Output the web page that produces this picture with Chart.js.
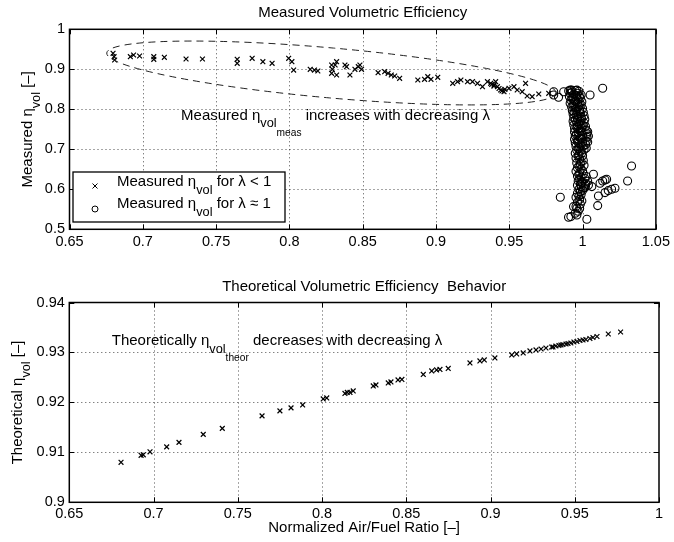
<!DOCTYPE html>
<html><head><meta charset="utf-8">
<script src="https://cdn.jsdelivr.net/npm/chart.js@4.4.1/dist/chart.umd.min.js"></script>
<style>
html,body{margin:0;padding:0;background:#fff;}
#wrap{position:relative;width:674px;height:542px;background:#fff;}
canvas{position:absolute;left:0;}
</style></head><body>
<div id="wrap">
<canvas id="c1" width="674" height="271" style="top:0px"></canvas>
<canvas id="c2" width="674" height="271" style="top:271px"></canvas>
</div>
<script>
// ---------------- DATA ----------------
// Measured volumetric efficiency, lambda < 1  [lambda, eta]
const measuredRich = [
[0.6797,0.940],[0.6804,0.9315],[0.6808,0.9233],[0.6915,0.9315],[0.6937,0.9358],[0.6978,0.9333],
[0.7075,0.9315],[0.7075,0.925],[0.7147,0.930],[0.7295,0.9258],[0.7407,0.9258],[0.7644,0.925],[0.7644,0.915],
[0.7746,0.9275],[0.7819,0.919],[0.7882,0.915],[0.7995,0.9275],[0.8017,0.919],[0.8029,0.898],
[0.8142,0.900],[0.8171,0.898],[0.8194,0.8958],[0.8288,0.9108],[0.8293,0.900],[0.8312,0.9108],[0.8322,0.919],
[0.8288,0.890],[0.8322,0.8858],[0.8379,0.9108],[0.839,0.9065],[0.8413,0.8858],[0.8447,0.900],[0.847,0.9065],
[0.8481,0.9108],[0.8492,0.900],[0.8605,0.8915],[0.865,0.894],[0.8673,0.890],[0.8695,0.8858],[0.8718,0.8833],
[0.8752,0.8775],[0.8876,0.8733],[0.8922,0.875],[0.8944,0.8815],[0.8966,0.875],[0.9012,0.880],
[0.9114,0.865],[0.9147,0.869],[0.917,0.8733],[0.9215,0.869],[0.9249,0.869],[0.9283,0.865],[0.9317,0.8565],
[0.9351,0.869],[0.9373,0.865],[0.938,0.862],[0.9395,0.858],[0.9396,0.8608],[0.9407,0.869],[0.9419,0.8565],[0.943,0.852],
[0.9441,0.8483],[0.945,0.846],[0.9464,0.844],[0.947,0.850],[0.9498,0.8525],[0.9532,0.8565],[0.9554,0.8483],
[0.9588,0.844],[0.9611,0.865],[0.9622,0.8333],[0.9656,0.8315],[0.9701,0.8383],[0.9769,0.840]
];
// Measured volumetric efficiency, lambda ~ 1  [lambda, eta]
const measuredStoich = [
[0.9905,0.846],[0.9925,0.848],[0.995,0.847],[0.9975,0.845],[0.9915,0.840],[0.994,0.838],[0.9965,0.840],[0.999,0.836],
[0.991,0.832],[0.9935,0.830],[0.996,0.833],[0.9985,0.828],[0.992,0.823],[0.9945,0.821],[0.997,0.824],[0.9995,0.819],
[0.9915,0.815],[0.994,0.813],[0.9965,0.816],[0.999,0.811],[0.9925,0.806],[0.995,0.804],[0.9975,0.807],[1.0,0.802],
[0.993,0.797],[0.9955,0.795],[0.998,0.798],[1.0005,0.793],[0.9935,0.788],[0.996,0.786],[0.9985,0.789],[1.001,0.784],
[0.994,0.779],[0.9965,0.777],[0.999,0.780],[1.0015,0.775],[0.9935,0.770],[0.996,0.768],[0.9985,0.771],[1.001,0.766],
[0.994,0.761],[0.9965,0.759],[0.999,0.762],[1.002,0.757],[0.9945,0.752],[0.997,0.750],[0.9995,0.753],[1.0025,0.748],
[0.9945,0.743],[0.997,0.741],[0.9995,0.744],[1.003,0.739],[0.995,0.734],[0.9975,0.732],[1.0,0.735],[1.003,0.730],
[0.9945,0.725],[0.997,0.723],[0.9995,0.726],[1.0025,0.721],[0.995,0.716],[0.9975,0.714],[1.0,0.717],[1.002,0.712],
[0.9955,0.707],[0.998,0.705],[1.0005,0.708],[0.996,0.698],[0.9985,0.696],[1.001,0.699],[0.995,0.690],[0.9975,0.687],
[1.0,0.684],[0.9955,0.678],[0.998,0.675],[1.0005,0.672],[0.996,0.666],[0.9985,0.663],[1.001,0.660],[0.9965,0.654],
[0.999,0.651],[0.9955,0.645],[0.998,0.642],[1.0005,0.639],[0.9965,0.633],[0.999,0.630],[1.0015,0.627],[0.997,0.621],
[0.9995,0.618],[1.002,0.615],[0.9965,0.610],[0.999,0.607],[1.0015,0.604],[0.9975,0.600],[1.000,0.597],
[0.9965,0.590],[0.999,0.587],[0.9955,0.580],[0.998,0.575],[0.9965,0.568],[0.9985,0.563],[0.9955,0.557],[0.998,0.552],
[0.997,0.545],[0.9904,0.530],[0.992,0.5317],[0.9961,0.5358],[0.995,0.540],[0.9938,0.5567],[0.9961,0.5525],
[0.9928,0.843],[0.9953,0.835],[0.9978,0.832],[0.9928,0.827],[0.9953,0.819],[0.9978,0.812],[0.9935,0.809],
[0.9958,0.800],[0.9983,0.794],[0.9942,0.792],[0.9968,0.782],[0.9993,0.776],[0.995,0.773],[0.9975,0.764],
[1.0003,0.760],[0.996,0.755],[0.9985,0.746],[1.0035,0.744],[0.9958,0.737],[0.9985,0.728],[1.004,0.733],
[0.9965,0.720],[0.999,0.710],[1.0035,0.718],[0.997,0.702],[0.9995,0.691],[1.0025,0.703],[0.997,0.683],
[0.999,0.669],[0.9975,0.658],[1.0,0.646],[0.9975,0.637],[1.0025,0.632],[0.998,0.625],[1.0035,0.620],
[0.9985,0.612],[1.002,0.608],[0.9985,0.594],[0.9975,0.583],[0.9995,0.571],
[0.9803,0.844],[0.9871,0.844],[0.9916,0.848],[0.9961,0.848],[1.0051,0.8358],[1.0137,0.8525],[0.9836,0.830],[0.9803,0.8358],
[1.0334,0.6583],[1.0307,0.6208],[1.0074,0.6375],[1.0153,0.6233],[1.0164,0.625],[1.0137,0.6208],[1.0119,0.615],
[1.0221,0.6025],[1.0198,0.600],[1.0175,0.5967],[1.0153,0.5917],[1.0108,0.5833],[0.9848,0.580],[1.0103,0.5592],
[1.0029,0.525],[1.004,0.6108],[1.0063,0.6067],[1.0006,0.6025],[0.9995,0.615]
];
// Theoretical volumetric efficiency  [lambda, eta]
const theoretical = [
[0.6807,0.9080],[0.6926,0.9094],[0.6939,0.9095],[0.6979,0.9101],[0.7078,0.9111],[0.7151,0.9120],[0.7295,0.9136],
[0.7408,0.9148],[0.7644,0.9173],[0.7750,0.9183],[0.7816,0.9189],[0.7885,0.9195],[0.8007,0.9207],[0.8028,0.9209],
[0.8136,0.9218],[0.8150,0.9220],[0.8166,0.9220],[0.8185,0.9223],[0.8304,0.9233],[0.8320,0.9235],[0.8393,0.9239],
[0.8409,0.9241],[0.8451,0.9245],[0.8474,0.9246],[0.8601,0.9256],[0.8651,0.9263],[0.8680,0.9265],[0.8700,0.9266],
[0.8749,0.9268],[0.8878,0.9279],[0.8937,0.9283],[0.8963,0.9285],[0.9026,0.9289],[0.9126,0.9295],[0.9155,0.9297],
[0.9194,0.9299],[0.9234,0.9303],[0.9270,0.9305],[0.9300,0.9307],[0.9329,0.9309],[0.9363,0.9311],[0.9371,0.9311],
[0.9388,0.9313],[0.9406,0.9314],[0.9418,0.9315],[0.9430,0.9316],[0.9448,0.9317],[0.9460,0.9318],[0.9477,0.9319],
[0.9495,0.9321],[0.9513,0.9322],[0.9531,0.9324],[0.9549,0.9325],[0.9566,0.9326],[0.9590,0.9328],[0.9608,0.9330],
[0.9632,0.9332],[0.9699,0.9337],[0.9772,0.9341]
];
// Ticks
const topXTicks = [0.65,0.7,0.75,0.8,0.85,0.9,0.95,1.0,1.05];
const topXLabels = ['0.65','0.7','0.75','0.8','0.85','0.9','0.95','1','1.05'];
const topYTicks = [0.5,0.6,0.7,0.8,0.9,1.0];
const topYLabels = ['0.5','0.6','0.7','0.8','0.9','1'];
const botXTicks = [0.65,0.7,0.75,0.8,0.85,0.9,0.95,1.0];
const botXLabels = ['0.65','0.7','0.75','0.8','0.85','0.9','0.95','1'];
const botYTicks = [0.90,0.91,0.92,0.93,0.94];
const botYLabels = ['0.9','0.91','0.92','0.93','0.94'];
// Ellipse around rich points: two tips in data units
const ellipseTips = [[0.6754,0.9408],[0.9819,0.8408]];
// Annotation anchors (left, baseline) in data units
const topNoteAt = [0.7261,0.7733];
const botNoteAt = [0.6752,0.93146];

// ---------------- DRAWING ----------------
const FONT = '"Liberation Sans", Arial, Helvetica, sans-serif';
const FS = 15, TICK = 14.5, LEG = 15;
const SC = [1,0.85,0.68], OFF = [0,0.5,1.05];
function richWidth(ctx, parts, size){ let w=0; for(const [t,l] of parts){ ctx.font=(size*SC[l])+'px '+FONT; w+=ctx.measureText(t).width; } return w; }
function drawRich(ctx, x, y, parts, size, align){
  const w = richWidth(ctx, parts, size);
  let cx = align==='center' ? x - w/2 : x;
  ctx.textAlign='left'; ctx.textBaseline='alphabetic'; ctx.fillStyle='#000';
  for(const [t,l] of parts){ ctx.font=(size*SC[l])+'px '+FONT; ctx.fillText(t, cx, y + OFF[l]*size); cx += ctx.measureText(t).width; }
}
function toXY(arr){ return arr.map(p=>({x:p[0], y:p[1]})); }

function overlay(cfg){
  return {
    id:'ov',
    beforeDatasetsDraw(chart){
      const {ctx, chartArea:a, scales:{x,y}} = chart;
      ctx.save();
      ctx.strokeStyle='rgba(0,0,0,0.7)'; ctx.lineWidth=1; ctx.setLineDash([1,3]);
      ctx.beginPath();
      cfg.xTicks.slice(1,-1).forEach(v=>{ const px=Math.round(x.getPixelForValue(v))+0.5; ctx.moveTo(px,a.top); ctx.lineTo(px,a.bottom); });
      cfg.yTicks.slice(1,-1).forEach(v=>{ const py=Math.round(y.getPixelForValue(v))+0.5; ctx.moveTo(a.left,py); ctx.lineTo(a.right,py); });
      ctx.stroke();
      ctx.restore();
    },
    afterDatasetsDraw(chart){
      const {ctx, chartArea:a, scales:{x,y}} = chart;
      ctx.save();
      if(cfg.ellipse){
        const x1=x.getPixelForValue(cfg.ellipse[0][0]), y1=y.getPixelForValue(cfg.ellipse[0][1]);
        const x2=x.getPixelForValue(cfg.ellipse[1][0]), y2=y.getPixelForValue(cfg.ellipse[1][1]);
        const cx=(x1+x2)/2, cy=(y1+y2)/2, ra=Math.hypot(x2-x1,y2-y1)/2, ang=Math.atan2(y2-y1,x2-x1);
        ctx.strokeStyle='#222'; ctx.lineWidth=1; ctx.setLineDash([7,5]);
        ctx.beginPath(); ctx.ellipse(cx,cy,ra,25,ang,0,Math.PI*2); ctx.stroke();
        ctx.setLineDash([]);
      }
      ctx.strokeStyle='#000'; ctx.lineWidth=1; ctx.beginPath();
      cfg.xTicks.forEach(v=>{ const px=Math.round(x.getPixelForValue(v))+0.5; ctx.moveTo(px,a.bottom); ctx.lineTo(px,a.bottom-5); ctx.moveTo(px,a.top); ctx.lineTo(px,a.top+5); });
      cfg.yTicks.forEach(v=>{ const py=Math.round(y.getPixelForValue(v))+0.5; ctx.moveTo(a.left,py); ctx.lineTo(a.left+5,py); ctx.moveTo(a.right,py); ctx.lineTo(a.right-5,py); });
      ctx.stroke();
      ctx.lineWidth=1.5; ctx.strokeRect(a.left, a.top, a.right-a.left, a.bottom-a.top);
      ctx.fillStyle='#000'; ctx.font=FS+'px '+FONT; ctx.textAlign='center'; ctx.textBaseline='middle';
      ctx.fillText(cfg.title, (a.left+a.right)/2, cfg.titleY);
      if(cfg.xTitle){ ctx.fillText(cfg.xTitle, (a.left+a.right)/2, cfg.xTitleY); }
      ctx.save(); ctx.translate(cfg.yTitleX, (a.top+a.bottom)/2); ctx.rotate(-Math.PI/2);
      drawRich(ctx, 0, 0.35*FS, cfg.yTitle, FS, 'center'); ctx.restore();
      drawRich(ctx, x.getPixelForValue(cfg.noteAt[0]), y.getPixelForValue(cfg.noteAt[1]), cfg.note, FS, 'left');
      if(cfg.legend){
        const L=cfg.legend;
        ctx.fillStyle='#fff'; ctx.fillRect(L.x,L.y,L.w,L.h);
        ctx.strokeStyle='#000'; ctx.lineWidth=1.3; ctx.strokeRect(L.x,L.y,L.w,L.h);
        L.rows.forEach(r=>{
          ctx.strokeStyle='#000'; ctx.lineWidth=1; ctx.beginPath();
          if(r.marker==='x'){ ctx.moveTo(L.mx-2.5,r.my-2.5); ctx.lineTo(L.mx+2.5,r.my+2.5); ctx.moveTo(L.mx+2.5,r.my-2.5); ctx.lineTo(L.mx-2.5,r.my+2.5); }
          else { ctx.arc(L.mx, r.my, 3, 0, Math.PI*2); }
          ctx.stroke();
          drawRich(ctx, L.tx, r.ty+0.35*LEG, r.parts, LEG, 'left');
        });
      }
      ctx.restore();
    }
  };
}

function makeChart(id, cfg){
  return new Chart(document.getElementById(id).getContext('2d'), {
    type:'scatter',
    data:{datasets:cfg.datasets},
    options:{
      responsive:false, animation:false, events:[],
      layout:{padding:cfg.padding},
      plugins:{legend:{display:false}, tooltip:{enabled:false}, title:{display:false}},
      scales:{
        x:{type:'linear', min:cfg.xTicks[0], max:cfg.xTicks[cfg.xTicks.length-1],
          afterBuildTicks:s=>{ s.ticks=cfg.xTicks.map(v=>({value:v})); },
          afterFit:s=>{ s.height=cfg.xAxisH; },
          ticks:{autoSkip:false, maxRotation:0, minRotation:0, padding:cfg.xPad, color:'#000', font:{family:FONT,size:TICK}, callback:(v,i)=>cfg.xLabels[i]},
          grid:{display:false, drawTicks:false}, border:{display:false}},
        y:{type:'linear', min:cfg.yTicks[0], max:cfg.yTicks[cfg.yTicks.length-1],
          afterBuildTicks:s=>{ s.ticks=cfg.yTicks.map(v=>({value:v})); },
          afterFit:s=>{ s.width=cfg.yAxisW; },
          ticks:{autoSkip:false, padding:4.5, color:'#000', font:{family:FONT,size:TICK}, callback:(v,i)=>cfg.yLabels[i]},
          grid:{display:false, drawTicks:false}, border:{display:false}}
      }
    },
    plugins:[overlay(cfg)]
  });
}

const crossStyle = {pointStyle:'crossRot', pointRadius:3.4, borderColor:'#000', borderWidth:1.2, backgroundColor:'#000', showLine:false};
const circleStyle = {pointStyle:'circle', pointRadius:4, borderColor:'#000', borderWidth:1.1, backgroundColor:'rgba(0,0,0,0)', showLine:false};

makeChart('c1', {
  datasets:[
    Object.assign({label:'Measured \u03B7vol for \u03BB < 1', data:toXY(measuredRich)}, crossStyle),
    Object.assign({label:'Measured \u03B7vol for \u03BB \u2248 1', data:toXY(measuredStoich)}, circleStyle)
  ],
  padding:{top:29.3, right:14.5, left:0, bottom:0},
  xTicks:topXTicks, xLabels:topXLabels, yTicks:topYTicks, yLabels:topYLabels,
  xAxisH:41.7, yAxisW:69.5, xPad:4,
  title:'Measured Volumetric Efficiency', titleY:13,
  yTitle:[['Measured \u03B7',0],['vol',1],[' [\u2013]',0]], yTitleX:27,
  ellipse:ellipseTips,
  noteAt:topNoteAt,
  note:[['Measured \u03B7',0],['vol',1],['meas',2],[' increases with decreasing \u03BB',0]],
  legend:{x:73, y:172, w:212, h:50, mx:95, tx:117,
    rows:[
      {marker:'x', my:186, ty:181, parts:[['Measured \u03B7',0],['vol',1],[' for \u03BB < 1',0]]},
      {marker:'o', my:209, ty:203, parts:[['Measured \u03B7',0],['vol',1],[' for \u03BB \u2248 1',0]]}
    ]}
});

makeChart('c2', {
  datasets:[
    Object.assign({label:'Theoretical', data:toXY(theoretical)}, crossStyle)
  ],
  padding:{top:31.5, right:15, left:0, bottom:0},
  xTicks:botXTicks, xLabels:botXLabels, yTicks:botYTicks, yLabels:botYLabels,
  xAxisH:39.7, yAxisW:69.3, xPad:2.5,
  title:'Theoretical Volumetric Efficiency  Behavior', titleY:16,
  xTitle:'Normalized Air/Fuel Ratio [\u2013]', xTitleY:257,
  yTitle:[['Theoretical \u03B7',0],['vol',1],[' [\u2013]',0]], yTitleX:17,
  noteAt:botNoteAt,
  note:[['Theoretically \u03B7',0],['vol',1],['theor',2],[' decreases with decreasing \u03BB',0]]
});
</script>
</body></html>
